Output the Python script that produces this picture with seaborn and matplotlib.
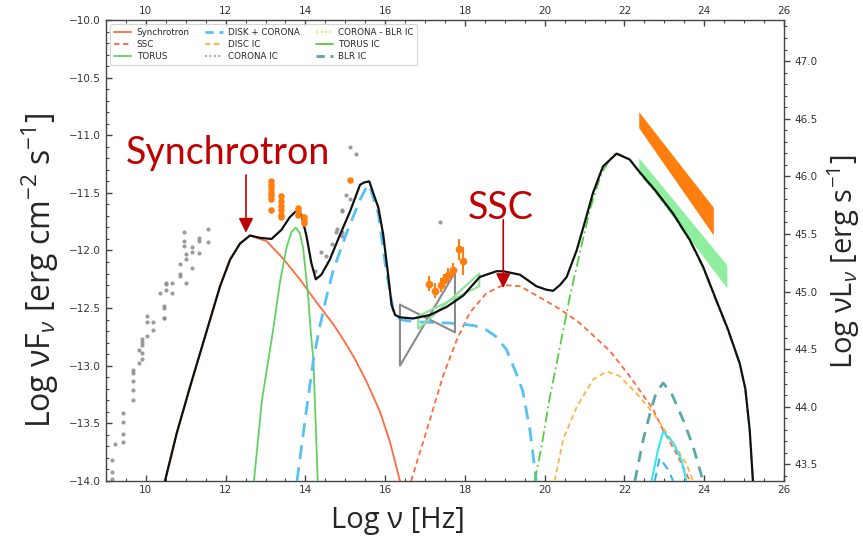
import numpy as np
import pandas as pd
import matplotlib
matplotlib.use("Agg")
import matplotlib.pyplot as plt
from matplotlib.lines import Line2D
import seaborn as sns

# ---------------- data ----------------
total_x = [10.48, 10.77, 11.11, 11.36, 11.61, 11.86, 12.11, 12.36, 12.61, 12.86, 13.15, 13.40,
           13.61, 13.76, 13.90, 14.03, 14.15, 14.26, 14.40, 14.61, 14.86, 15.12, 15.37, 15.47,
           15.60, 15.83, 15.95, 16.08, 16.16, 16.25, 16.37, 16.70, 17.12, 17.54, 17.96, 18.37,
           18.79, 18.96, 19.38, 19.79, 20.04, 20.21, 20.38, 20.55, 20.80, 21.00, 21.21, 21.46,
           21.80, 22.13, 22.38, 22.80, 23.22, 23.64, 23.97, 24.30, 24.60, 24.89, 25.03, 25.14, 25.22]
total_y = [-14.0, -13.59, -13.18, -12.89, -12.60, -12.31, -12.08, -11.94, -11.87, -11.89, -11.90, -11.82,
           -11.71, -11.66, -11.69, -11.88, -12.11, -12.25, -12.21, -12.08, -11.87, -11.66, -11.43, -11.41,
           -11.40, -11.63, -11.86, -12.23, -12.47, -12.56, -12.58, -12.59, -12.56, -12.49, -12.39, -12.23,
           -12.18, -12.18, -12.21, -12.31, -12.34, -12.35, -12.30, -12.23, -12.00, -11.76, -11.50, -11.27,
           -11.16, -11.21, -11.32, -11.49, -11.68, -11.91, -12.14, -12.43, -12.69, -12.98, -13.20, -13.56, -14.0]

syn_x = [10.48, 10.77, 11.11, 11.36, 11.61, 11.86, 12.11, 12.36, 12.61, 13.03, 13.44, 13.86,
         14.28, 14.70, 15.00, 15.24, 15.55, 15.87, 16.12, 16.37]
syn_y = [-14.0, -13.59, -13.18, -12.89, -12.60, -12.31, -12.08, -11.94, -11.87, -11.92, -12.07, -12.25,
         -12.45, -12.64, -12.80, -12.94, -13.15, -13.40, -13.66, -14.0]

torus_x = [12.71, 12.91, 13.19, 13.36, 13.53, 13.65, 13.76, 13.86, 13.94, 14.07, 14.13, 14.20, 14.31]
torus_y = [-14.0, -13.30, -12.69, -12.28, -11.97, -11.84, -11.80, -11.85, -11.97, -12.40, -12.69, -12.95, -14.0]

disk_x = [13.79, 14.00, 14.20, 14.36, 14.53, 14.70, 15.03, 15.37, 15.53, 15.60, 15.83, 16.00,
          16.20, 16.37, 16.79, 17.62, 18.21, 18.50, 18.79, 19.04, 19.29, 19.45, 19.63, 19.79]
disk_y = [-14.0, -13.45, -12.95, -12.66, -12.40, -12.17, -11.85, -11.56, -11.45, -11.43, -11.68, -12.11,
          -12.52, -12.60, -12.62, -12.63, -12.65, -12.68, -12.75, -12.86, -13.07, -13.22, -13.56, -14.0]

ssc_x = [16.65, 17.05, 17.45, 17.79, 18.12, 18.54, 18.96, 19.38, 19.79, 20.29, 20.60, 20.88, 21.13,
         21.63, 22.13, 22.72, 22.97, 23.30, 23.64]
ssc_y = [-14.0, -13.55, -13.09, -12.78, -12.54, -12.37, -12.30, -12.31, -12.39, -12.49, -12.56, -12.63, -12.71,
         -12.87, -13.09, -13.38, -13.56, -13.76, -14.0]

discic_x = [20.25, 20.46, 20.80, 21.21, 21.56, 21.88, 22.30, 22.72, 23.13, 23.55, 23.72]
discic_y = [-14.0, -13.64, -13.36, -13.12, -13.05, -13.09, -13.24, -13.41, -13.62, -13.85, -14.0]

torusic_x = [19.75, 19.92, 20.13, 20.30, 20.63, 20.88, 21.13, 21.42, 21.71, 21.84, 22.13, 22.38,
             22.80, 23.22, 23.64, 23.97, 24.30, 24.60, 24.89, 25.03, 25.14, 25.22]
torusic_y = [-14.0, -13.70, -13.27, -12.98, -12.40, -12.02, -11.65, -11.33, -11.17, -11.16, -11.21, -11.33,
             -11.50, -11.69, -11.92, -12.15, -12.44, -12.70, -12.99, -13.21, -13.57, -14.0]

blric_x = [22.26, 22.47, 22.68, 22.80, 22.97, 23.18, 23.47, 23.72, 23.97]
blric_y = [-14.0, -13.64, -13.36, -13.23, -13.15, -13.24, -13.47, -13.70, -14.0]

cyan_x = [22.68, 22.84, 22.97, 23.22, 23.43, 23.55]
cyan_y = [-14.0, -13.73, -13.57, -13.67, -13.82, -14.0]

blue2_x = [22.76, 22.88, 23.09, 23.22]
blue2_y = [-14.0, -13.80, -13.90, -14.0]

gray_x = [9.16, 9.16, 9.16, 9.23, 9.43, 9.43, 9.43, 9.43, 9.68, 9.68, 9.68, 9.68, 9.68,
          9.83, 9.83, 9.91, 9.91, 9.91, 9.91, 9.91, 10.02, 10.02, 10.02, 10.19, 10.19, 10.35,
          10.46, 10.46, 10.46, 10.46, 10.50, 10.50, 10.50, 10.65, 10.65, 10.85, 10.85, 10.85,
          10.95, 10.95, 10.95, 11.00, 11.00, 11.00, 11.16, 11.16, 11.16, 11.34, 11.34, 11.34,
          11.55, 11.55,
          14.24, 14.38, 14.51, 14.66, 14.76, 14.80, 14.91, 14.93, 14.93, 14.91, 15.03, 15.12,
          15.12, 15.28, 17.37]
gray_y = [-13.82, -13.92, -13.98, -13.68, -13.41, -13.49, -13.59, -13.66, -13.04, -13.06, -13.13, -13.21, -13.30,
          -12.98, -12.86, -12.89, -12.94, -12.77, -12.79, -12.82, -12.57, -12.62, -12.74, -12.62, -12.69, -12.37,
          -12.48, -12.50, -12.59, -12.59, -12.28, -12.29, -12.34, -12.28, -12.37, -12.12, -12.20, -12.22,
          -11.84, -11.92, -11.96, -12.03, -12.07, -12.28, -11.97, -12.01, -12.15, -11.89, -11.92, -12.02,
          -11.81, -11.93,
          -12.18, -12.01, -12.05, -11.94, -11.84, -11.81, -11.87, -11.84, -11.66, -11.65, -11.52, -11.55,
          -11.10, -11.16, -11.75]

opt_x = [13.14, 13.14, 13.14, 13.14, 13.14, 13.14, 13.14, 13.40, 13.40, 13.40, 13.40, 13.40, 13.40,
         13.82, 13.82, 13.82, 13.96, 13.96, 13.96, 15.12]
opt_y = [-11.40, -11.43, -11.46, -11.49, -11.52, -11.55, -11.65, -11.53, -11.57, -11.61, -11.65, -11.69, -11.71,
         -11.63, -11.66, -11.69, -11.71, -11.74, -11.76, -11.39]

xr_x = [17.10, 17.26, 17.39, 17.47, 17.58, 17.70, 17.85, 17.96]
xr_y = [-12.29, -12.35, -12.30, -12.26, -12.21, -12.17, -11.99, -12.09]
xr_err = [0.065, 0.065, 0.06, 0.06, 0.06, 0.06, 0.09, 0.12]

xbow_x = [16.37, 17.75, 17.75, 16.37, 16.37]
xbow_y = [-12.47, -12.71, -12.19, -13.00, -12.47]

gbow_x = [16.83, 18.36, 18.36, 16.83, 16.83]
gbow_y = [-12.57, -12.31, -12.20, -12.68, -12.57]

fermi1_x = [22.37, 24.24, 24.24, 22.37]
fermi1_y = [-10.80, -11.63, -11.87, -10.94]
fermi2_x = [22.37, 24.58, 24.58, 22.37]
fermi2_y = [-11.20, -12.13, -12.33, -11.32]

x_ticks = [10, 12, 14, 16, 18, 20, 22, 24, 26]
y_ticks = [-14.0, -13.5, -13.0, -12.5, -12.0, -11.5, -11.0, -10.5, -10.0]
lum_ticks = [43.5, 44.0, 44.5, 45.0, 45.5, 46.0, 46.5, 47.0]
lum_offset = 57.356

# ---------------- figure ----------------
sns.set_theme(style="ticks")
plt.rcParams['font.family'] = ['DejaVu Sans']
plt.rcParams['mathtext.fontset'] = 'custom'
plt.rcParams['mathtext.rm'] = 'Open Sans'
plt.rcParams['mathtext.it'] = 'Open Sans:italic'
plt.rcParams['mathtext.fallback'] = 'stixsans'

fig = plt.figure(figsize=(8.63, 5.47), dpi=100)
ax = fig.add_axes([0.1228, 0.1207, 0.7857, 0.8427])

def line(x, y, **kw):
    df = pd.DataFrame({"x": x, "y": y})
    sns.lineplot(data=df, x="x", y="y", ax=ax, sort=False, estimator=None, legend=False, **kw)

# data points
sns.scatterplot(x=gray_x, y=gray_y, ax=ax, color="#8c8c8c", s=9, linewidth=0, alpha=0.85, zorder=2)
ax.fill(fermi1_x, fermi1_y, color="#FF7F0E", lw=0, zorder=2)
ax.fill(fermi2_x, fermi2_y, color="#90EE9F", lw=0, zorder=2)

# model components
line(syn_x, syn_y, color="#FF6A3D", lw=1.3, zorder=3)
line(ssc_x, ssc_y, color="#FF6A3D", lw=1.3, linestyle=(0, (3, 2)), zorder=3)
line(torus_x, torus_y, color="#5ED35E", lw=1.3, zorder=3)
line(disk_x, disk_y, color="#56C1F5", lw=2.0, linestyle=(0, (5, 3)), zorder=3)
line(discic_x, discic_y, color="#FFB347", lw=1.3, linestyle=(0, (3, 2)), zorder=3)
line(torusic_x, torusic_y, color="#55CC44", lw=1.3, linestyle=(0, (6, 2, 1, 2)), zorder=3)
line(blric_x, blric_y, color="#5AA8A8", lw=2.0, linestyle=(0, (4, 3)), zorder=3)
line(cyan_x, cyan_y, color="#33E6F0", lw=1.5, zorder=3)
line(blue2_x, blue2_y, color="#40B0F0", lw=1.5, linestyle=(0, (4, 3)), zorder=3)

# bowties
line(xbow_x, xbow_y, color="#8a8a8a", lw=1.5, zorder=4)
line(gbow_x, gbow_y, color="#8FE39A", lw=1.5, zorder=4)

# total
line(total_x, total_y, color="#111111", lw=1.6, zorder=5)

sns.scatterplot(x=opt_x, y=opt_y, ax=ax, color="#FF7F0E", s=22, linewidth=0, zorder=6)
ax.errorbar(xr_x, xr_y, yerr=xr_err, fmt="o", color="#FF7F0E", ms=4.5, lw=1.5, capsize=0, zorder=6)

ax.set_xlim(9, 26)
ax.set_ylim(-14, -10)
ax.set_xticks(x_ticks)
ax.set_yticks(y_ticks)
ax.set_xticklabels([str(t) for t in x_ticks])
ax.set_yticklabels([f"{t:.1f}".replace("-", "\u2212") for t in y_ticks])
ax.xaxis.set_minor_locator(matplotlib.ticker.MultipleLocator(0.5))
ax.yaxis.set_minor_locator(matplotlib.ticker.MultipleLocator(0.1))
ax.tick_params(axis="both", which="both", direction="in", top=True, labeltop=True,
               labelsize=7.5, labelcolor="#333333", color="#444444")
ax.tick_params(which="major", length=4, width=1)
ax.tick_params(which="minor", length=2, width=0.8)
ax.tick_params(axis="x", pad=3)
for s in ax.spines.values():
    s.set_color("#444444")
    s.set_linewidth(1.0)
ax.set_xlabel("")
ax.set_ylabel("")

ax2 = ax.twinx()
ax2.set_ylim(-14 + lum_offset, -10 + lum_offset)
ax2.set_yticks(lum_ticks)
ax2.set_yticklabels([f"{t:.1f}" for t in lum_ticks])
ax2.yaxis.set_minor_locator(matplotlib.ticker.MultipleLocator(0.1))
ax2.tick_params(axis="y", which="both", direction="out", labelsize=7.5, labelcolor="#333333", color="#444444")
ax2.tick_params(which="major", length=4, width=1)
ax2.tick_params(which="minor", length=2, width=0.8)
for s in ax2.spines.values():
    s.set_visible(False)

# legend
handles = [
    Line2D([], [], color="#FF6A3D", lw=1.3),
    Line2D([], [], color="#FF6A3D", lw=1.3, linestyle=(0, (3, 2))),
    Line2D([], [], color="#5ED35E", lw=1.3),
    Line2D([], [], color="#56C1F5", lw=2.0, linestyle=(0, (3, 2))),
    Line2D([], [], color="#FFB347", lw=1.3, linestyle=(0, (3, 2))),
    Line2D([], [], color="#C080C0", lw=1.3, linestyle=(0, (1, 1.5))),
    Line2D([], [], color="#E6E62E", lw=1.3, linestyle=(0, (1, 1.5))),
    Line2D([], [], color="#55CC44", lw=1.3),
    Line2D([], [], color="#5AA8A8", lw=2.0, linestyle=(0, (3, 2))),
]
labels = ["Synchrotron", "SSC", "TORUS", "DISK + CORONA", "DISC IC", "CORONA IC",
          "CORONA - BLR IC", "TORUS IC", "BLR IC"]
leg = ax.legend(handles, labels, ncol=3, loc="upper left", bbox_to_anchor=(0.0, 1.0),
                fontsize=6.3, frameon=True, handlelength=2.0, columnspacing=1.8,
                labelspacing=0.35, borderpad=0.4, handletextpad=0.6)
leg.get_frame().set_edgecolor("#cccccc")
leg.get_frame().set_linewidth(0.8)

# annotations
red = "#C00000"
ax.text(12.06, -11.15, "Synchrotron", color=red, fontsize=27, family=["Lato", "DejaVu Sans"],
        ha="center", va="center", zorder=7)
ax.text(18.9, -11.63, "SSC", color=red, fontsize=27, family=["Lato", "DejaVu Sans"],
        ha="center", va="center", zorder=7)
ax.annotate("", xy=(12.51, -11.87), xytext=(12.51, -11.32),
            arrowprops=dict(arrowstyle="-|>", color=red, lw=1.2, mutation_scale=22), zorder=7)
ax.annotate("", xy=(18.96, -12.35), xytext=(18.96, -11.71),
            arrowprops=dict(arrowstyle="-|>", color=red, lw=1.2, mutation_scale=22), zorder=7)

# axis labels
lab_font = ["Open Sans", "DejaVu Sans"]
fig.text(0.047, 0.506, r"Log νF$_\nu$ [erg cm$^{-2}$ s$^{-1}$]", rotation=90, ha="center", va="center",
         fontsize=23, family=lab_font)
fig.text(0.977, 0.521, r"Log νL$_\nu$ [erg s$^{-1}$]", rotation=90, ha="center", va="center",
         fontsize=21, family=lab_font)
fig.text(0.461, 0.049, "Log ν [Hz]", ha="center", va="center", fontsize=21, family=lab_font)

fig.savefig("out.png", dpi=100)
